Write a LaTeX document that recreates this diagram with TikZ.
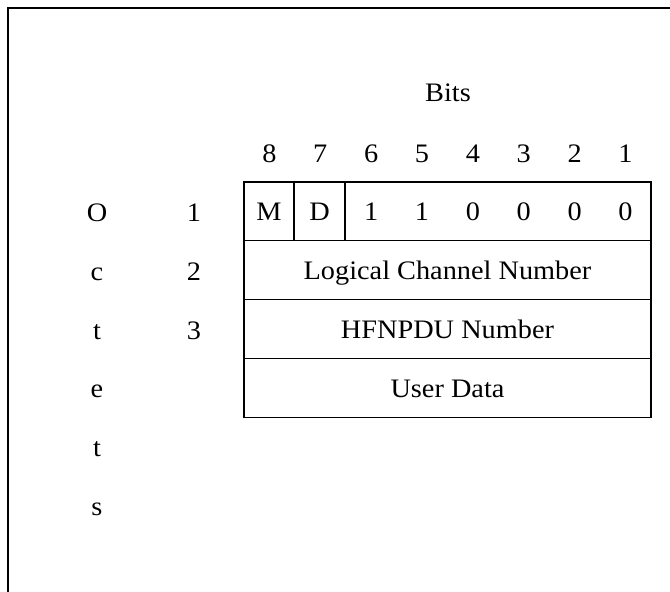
\documentclass[tikz,border=0pt]{standalone}
\usepackage{fontspec}
\setmainfont[FakeStretch=1.06]{Liberation Serif}
\begin{document}
\begin{tikzpicture}[x=1pt,y=-1pt,line width=1.2pt,
  every node/.style={font=\fontsize{26.7}{31}\selectfont},
  cell/.style={draw,minimum height=58.8pt,inner sep=0pt,outer sep=0pt},
  lbl/.style={anchor=base,inner sep=0pt}]
\useasboundingbox (0,0) rectangle (670,592);
% frame (left and top edges)
\coordinate (fbl) at (8,600);
\coordinate (ftl) at (8,8);
\coordinate (ftr) at (680,8);
\draw (fbl) -- (ftl) -- (ftr);
% title
\node[lbl] (bits) at (448,101.7) {Bits};
% bit numbers
\foreach \i/\b in {0/8,1/7,2/6,3/5,4/4,5/3,6/2,7/1}{
  \node[lbl] (b\b) at ({269.4+50.875*\i},162.7) {\b};
}
% octets labels
\foreach \i/\c in {0/O,1/c,2/t,3/e,4/t,5/s}{
  \node[lbl] (oct\i) at (97,{221.5+58.8*\i}) {\c};
}
\foreach \i/\n in {0/1,1/2,2/3}{
  \node[lbl] (num\n) at (194,{221.5+58.8*\i}) {\n};
}
% row 1
\node[cell,minimum width=50pt] (m) at (269,211.4) {};
\node[cell,minimum width=51pt] (d) at (319.5,211.4) {};
\node[cell,minimum width=306pt] (rest) at (498,211.4) {};
\node[lbl] (tm) at ([yshift=-9.5pt]m.center) {M};
\node[lbl] (td) at ([yshift=-9.5pt]d.center) {D};
\foreach \i/\v in {2/1,3/1,4/0,5/0,6/0,7/0}{
  \node[lbl] (v\i) at ({269.4+50.875*\i},220.9) {\v};
}
% rows 2-4
\node[cell,minimum width=407pt] (lcn) at (447.5,270.2) {};
\node[cell,minimum width=407pt] (hfn) at (447.5,329) {};
\node[cell,minimum width=407pt] (ud) at (447.5,387.8) {};
\node[lbl] (tlcn) at ([yshift=-9.5pt]lcn.center) {Logical Channel Number};
\node[lbl] (thfn) at ([yshift=-9.5pt]hfn.center) {HFNPDU Number};
\node[lbl] (tud) at ([yshift=-9.5pt]ud.center) {User Data};
\end{tikzpicture}
\end{document}
